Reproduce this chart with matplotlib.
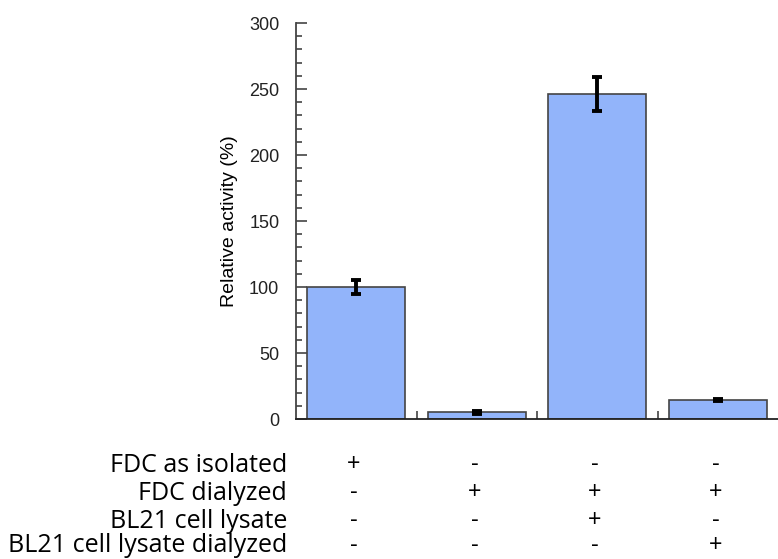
import matplotlib.pyplot as plt
from matplotlib.ticker import MultipleLocator
import matplotlib.transforms as mtransforms

# data
conditions = ["FDC as isolated", "FDC dialyzed", "BL21 cell lysate", "BL21 cell lysate dialyzed"]
activity = [100, 5, 246, 14.5]
errors = [5.5, 1, 13, 1]
signs = [
    ["+", "-", "-", "-"],
    ["-", "+", "+", "+"],
    ["-", "-", "+", "-"],
    ["-", "-", "-", "+"],
]

fig = plt.figure(figsize=(7.78, 5.59), dpi=100)
ax = fig.add_axes([296 / 778, 1 - 419 / 559, 1 - 296 / 778, (419 - 23) / 559])

x = range(len(activity))
ax.bar(x, activity, width=0.81, color="#92b4fa", edgecolor="#444444", linewidth=1.2, zorder=2)
ax.errorbar(x, activity, yerr=errors, fmt="none", ecolor="black", elinewidth=2.8,
            capsize=3.6, capthick=2.8, zorder=3)

ax.set_xlim(-0.5, 3.5)
ax.set_ylim(0, 300)
for s in ["top", "right"]:
    ax.spines[s].set_visible(False)
ax.spines["left"].set_color("#444444")
ax.spines["bottom"].set_color("#222222")
ax.spines["left"].set_linewidth(1.3)
ax.spines["bottom"].set_linewidth(1.3)

ax.yaxis.set_major_locator(MultipleLocator(50))
ax.yaxis.set_minor_locator(MultipleLocator(10))
ax.tick_params(axis="y", which="major", direction="in", length=8, width=1.2, color="#444444",
               pad=12, labelsize=13, labelcolor="#222222")
ax.tick_params(axis="y", which="minor", direction="in", length=4, width=1.2, color="#444444")
ax.set_xticks([0.5, 1.5, 2.5])
ax.set_xticklabels([])
ax.tick_params(axis="x", direction="in", length=6, width=1.2, color="#444444")
for lab in ax.get_yticklabels():
    lab.set_family("Liberation Sans")

ax.set_ylabel("Relative activity (%)", family="Liberation Sans", fontsize=14, labelpad=8)

# condition table under the bars
trans = mtransforms.blended_transform_factory(ax.transData, fig.transFigure)
row_y = [465, 493, 521, 546]
for i, name in enumerate(conditions):
    fy = 1 - row_y[i] / 559
    fig.text(287 / 778, fy, name, ha="right", va="center", family="Open Sans",
             fontsize=18, color="black")
    for j, s in enumerate(signs[i]):
        ax.text(j - 0.02, fy, s, transform=trans, ha="center", va="center",
                family="Open Sans", fontsize=17, color="black", clip_on=False)

fig.savefig("out.png", dpi=100)
